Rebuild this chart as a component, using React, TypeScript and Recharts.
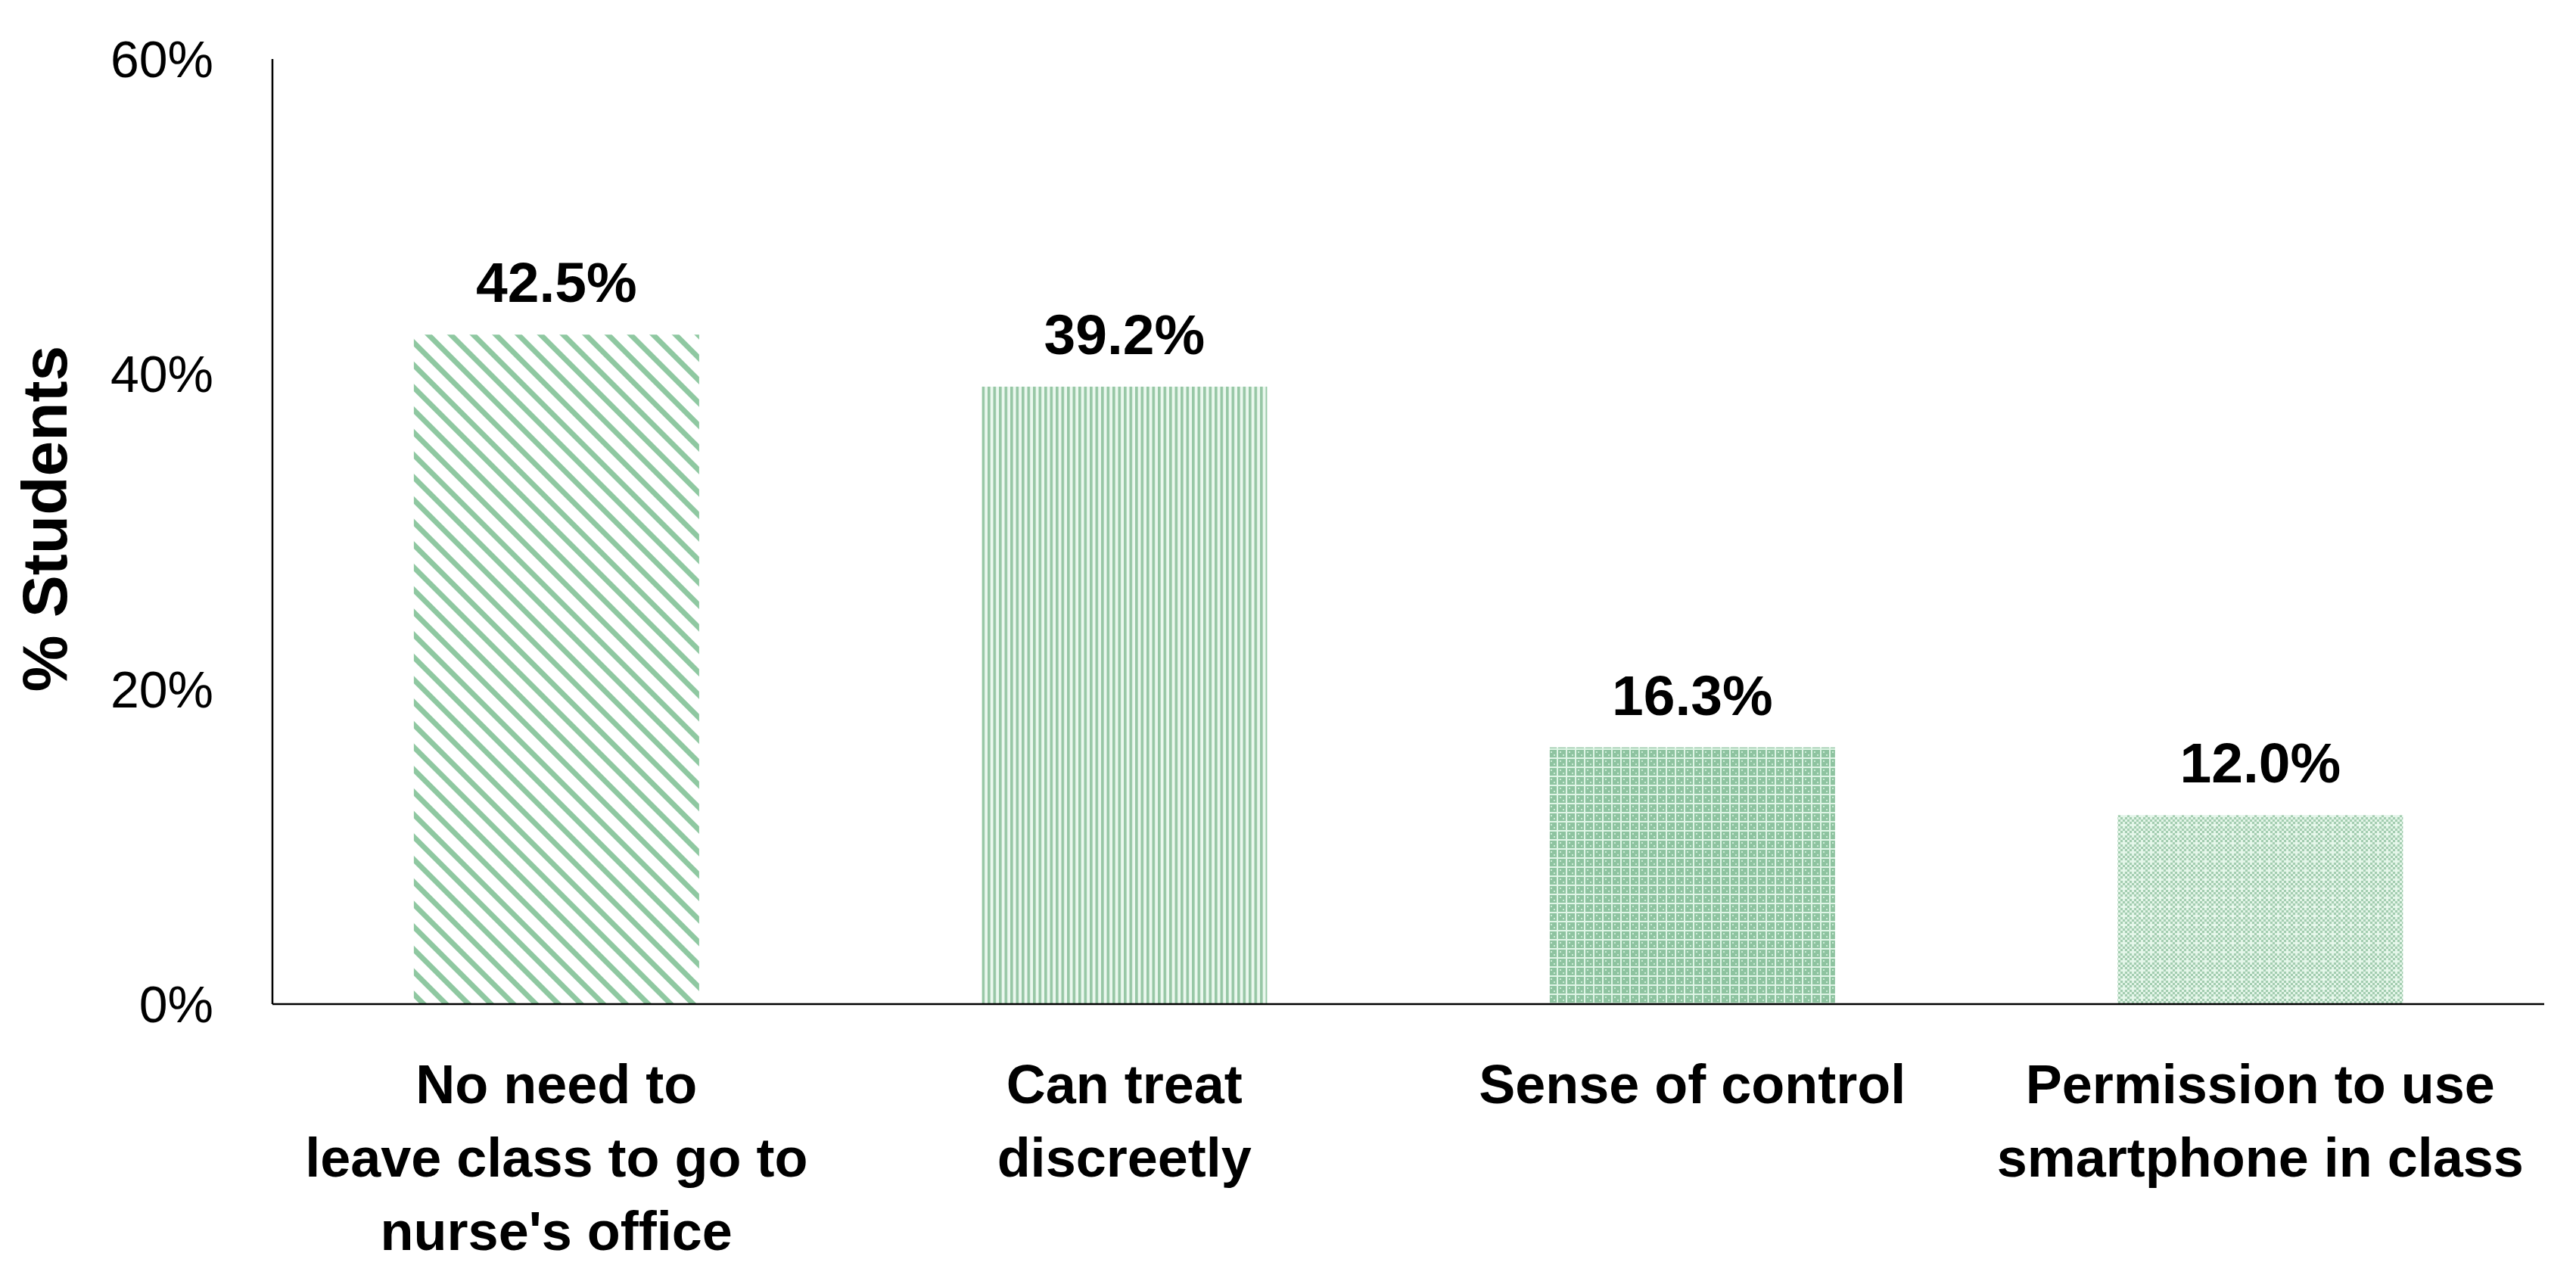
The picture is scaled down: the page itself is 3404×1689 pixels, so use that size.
import React from "react";
import { BarChart, Bar, XAxis, YAxis, Cell, LabelList, Label } from "recharts";

const categories = [
  "No need to leave class to go to nurse's office",
  "Can treat discreetly",
  "Sense of control",
  "Permission to use smartphone in class",
];
const tickLines = [
  ["No need to", "leave class to go to", "nurse's office"],
  ["Can treat", "discreetly"],
  ["Sense of control"],
  ["Permission to use", "smartphone in class"],
];
const percentStudents = [42.5, 39.2, 16.3, 12.0];
const patternIds = ["pDiag", "pVert", "pGrid", "pDots"];
const yTicks = [0, 20, 40, 60];

const data = categories.map((c, i) => ({ name: c, value: percentStudents[i], idx: i }));

const FONT = "'Liberation Sans', Arial, sans-serif";

const CategoryTick = (props: any) => {
  const { x, y, payload } = props;
  const lines = tickLines[payload.index] || [payload.value];
  return (
    <g>
      {lines.map((t, i) => (
        <text
          key={i}
          x={x}
          y={y + 123 + i * 97}
          textAnchor="middle"
          fontFamily={FONT}
          fontWeight="bold"
          fontSize={72}
          fill="#000"
        >
          {t}
        </text>
      ))}
    </g>
  );
};

const YTitle = (props: any) => {
  const { viewBox } = props;
  const cy = viewBox.y + viewBox.height / 2 - 17;
  return (
    <text
      x={88}
      y={cy}
      transform={`rotate(-90 88 ${cy})`}
      textAnchor="middle"
      fontFamily={FONT}
      fontWeight="bold"
      fontSize={84}
      fill="#000"
    >
      % Students
    </text>
  );
};

export default function App() {
  return (
    <div style={{ position: "absolute", left: 0, top: 0, width: 3404, height: 1689, background: "#fff" }}>
      <BarChart
        width={3404}
        height={1689}
        data={data}
        margin={{ top: 78, right: 42, bottom: 0, left: 0 }}
        barCategoryGap="24.9%"
      >
        <defs>
          <pattern id="pDiag" width="21" height="21" patternUnits="userSpaceOnUse" patternTransform="rotate(-45)">
            <rect width="21" height="21" fill="#ffffff" />
            <rect width="7" height="21" fill="#8fc8a1" />
          </pattern>
          <pattern id="pVert" width="7.5" height="10" patternUnits="userSpaceOnUse">
            <rect width="7.5" height="10" fill="#eaf8ee" />
            <rect width="3.6" height="10" fill="#97c7a5" />
          </pattern>
          <pattern id="pGrid" width="12" height="12" patternUnits="userSpaceOnUse">
            <rect width="12" height="12" fill="#8ec3a0" />
            <rect x="0" y="5" width="12" height="2" fill="#dff5e6" />
            <rect x="5" y="0" width="2" height="12" fill="#dff5e6" />
            <rect x="1" y="1" width="2" height="2" fill="#c9ead4" />
            <rect x="9" y="9" width="2" height="2" fill="#c9ead4" />
          </pattern>
          <pattern id="pDots" width="12" height="12" patternUnits="userSpaceOnUse">
            <rect width="12" height="12" fill="#e3f5e8" />
            <rect x="0" y="0" width="3" height="3" fill="#a3cdb0" />
            <rect x="6" y="0" width="3" height="3" fill="#a3cdb0" />
            <rect x="3" y="3" width="3" height="3" fill="#a3cdb0" />
            <rect x="9" y="3" width="3" height="3" fill="#a3cdb0" />
            <rect x="0" y="6" width="3" height="3" fill="#a3cdb0" />
            <rect x="6" y="6" width="3" height="3" fill="#a3cdb0" />
            <rect x="3" y="9" width="3" height="3" fill="#a3cdb0" />
          </pattern>
        </defs>
        <XAxis
          dataKey="name"
          axisLine={{ stroke: "#000", strokeWidth: 2.5 }}
          tickLine={false}
          tick={<CategoryTick />}
          height={362}
          interval={0}
        />
        <YAxis
          domain={[0, 60]}
          ticks={yTicks}
          tickFormatter={(v: number) => `${v}%`}
          axisLine={{ stroke: "#000", strokeWidth: 2.5 }}
          tickLine={false}
          tickSize={0}
          tickMargin={78}
          width={360}
          tick={{ fill: "#000", fontSize: 68, fontFamily: FONT }}
        >
          <Label content={<YTitle />} />
        </YAxis>
        <Bar dataKey="value" isAnimationActive={false}>
          {data.map((d, i) => (
            <Cell key={d.name} fill={`url(#${patternIds[i]})`} />
          ))}
          <LabelList
            dataKey="value"
            position="top"
            offset={43}
            formatter={(v: any) => `${Number(v).toFixed(1)}%`}
            style={{ fill: "#000", fontSize: 75, fontWeight: "bold", fontFamily: FONT }}
          />
        </Bar>
      </BarChart>
    </div>
  );
}
